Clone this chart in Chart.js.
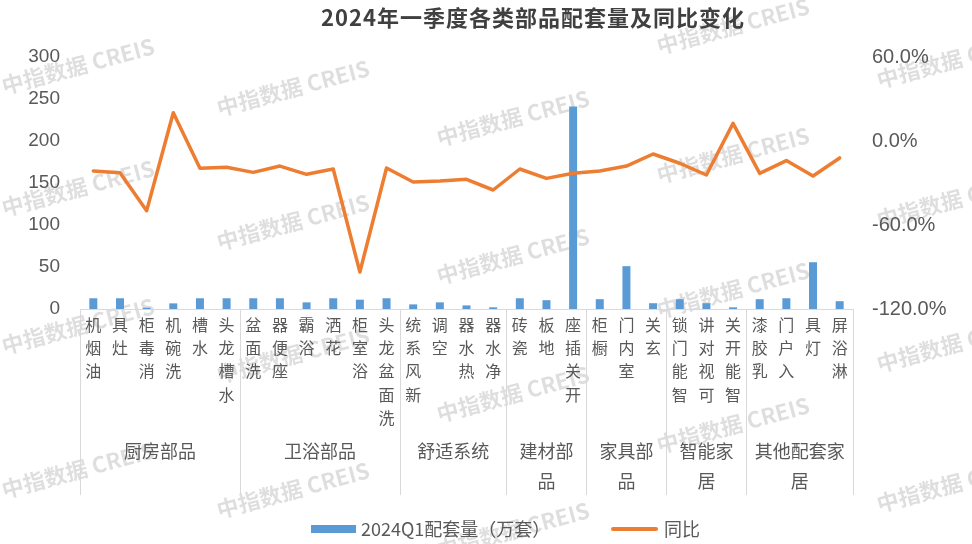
<!DOCTYPE html>
<html>
<head>
<meta charset="utf-8">
<script src="https://cdn.jsdelivr.net/npm/chart.js@4/dist/chart.umd.min.js"></script>
<style>
html,body{margin:0;padding:0;background:#fff;}
#wrap{width:972px;height:544px;position:relative;}
</style>
</head>
<body>
<div id="wrap"><canvas id="c" width="972" height="544"></canvas></div>
<script>
const chartTitle = '2024年一季度各类部品配套量及同比变化';
const categories = ['油烟机','灶具','消毒柜','洗碗机','水槽','水槽龙头','洗面盆','座便器','浴霸','花洒','浴室柜','洗面盆龙头','新风系统','空调','热水器','净水器','瓷砖','地板','开关插座','橱柜','室内门','玄关','智能门锁','可视对讲','智能开关','乳胶漆','入户门','灯具','淋浴屏'];
const groupNames = ['厨房部品','卫浴部品','舒适系统','建材部品','家具部品','智能家居','其他配套家居'];
const groupSizes = [6,6,4,3,3,3,4];
const volumeLabel = '2024Q1配套量（万套）';
const yoyLabel = '同比';
const volume = [12.8,12.8,1.5,6.7,12.8,12.8,12.8,12.8,7.9,12.8,11.1,12.8,5.5,7.9,4.3,2.0,12.8,10.5,241,11.7,51,6.9,11.7,6.9,2.0,11.7,12.8,55.7,9.3];
const yoy = [-21.4,-22.6,-49.8,20.2,-19.5,-18.8,-22.4,-17.9,-23.8,-20.0,-93.6,-19.3,-29.3,-28.6,-27.4,-35.0,-20.0,-26.7,-23.1,-21.4,-17.9,-9.3,-15.9,-24.3,12.6,-23.1,-14.0,-25.0,-12.1];
const leftAxis = {min:0, max:300, step:50};
const rightAxis = {min:-120, max:60, step:60};
const watermarkText = '中指数据 CREIS';
const watermarkSpots = [[78,66],[78,188],[78,326],[78,470],[293,88],[293,222],[293,355],[293,490],[513,118],[513,256],[513,394],[513,530],[733,26],[733,155],[733,290],[733,425],[953,60],[953,200],[953,344],[953,484]];

const CJK = '"Noto Sans CJK SC", "Noto Sans", sans-serif';
const LAT = '"Liberation Sans", Arial, sans-serif';
const BLUE = '#5B9BD5', ORANGE = '#ED7D31', TXT = '#595959', LINE = '#D9D9D9';

const decor = {
  id: 'decor',
  beforeDraw(chart) {
    const ctx = chart.ctx;
    ctx.save();
    ctx.fillStyle = '#ffffff';
    ctx.fillRect(0, 0, chart.width, chart.height);
    ctx.font = 'bold 22px ' + CJK;
    ctx.fillStyle = 'rgba(0,0,0,0.13)';
    ctx.textAlign = 'center';
    ctx.textBaseline = 'middle';
    watermarkSpots.forEach(([x, y]) => {
      ctx.save();
      ctx.translate(x, y);
      ctx.rotate(-15 * Math.PI / 180);
      ctx.fillText(watermarkText, 0, 0);
      ctx.restore();
    });
    ctx.restore();
  },
  afterDraw(chart) {
    const ctx = chart.ctx;
    const xs = chart.scales.x;
    const half = (xs.getPixelForValue(1) - xs.getPixelForValue(0)) / 2;
    const bounds = [xs.getPixelForValue(0) - half];
    let idx = 0;
    groupSizes.forEach(n => { idx += n; bounds.push(xs.getPixelForValue(idx - 1) + half); });
    ctx.save();
    // separators
    ctx.strokeStyle = LINE;
    ctx.lineWidth = 1;
    bounds.forEach(b => {
      const bx = Math.round(b) + 0.5;
      ctx.beginPath();
      ctx.moveTo(bx, xs.top);
      ctx.lineTo(bx, 495);
      ctx.stroke();
    });
    // group labels
    ctx.font = '18px ' + CJK;
    ctx.fillStyle = TXT;
    ctx.textAlign = 'center';
    ctx.textBaseline = 'middle';
    groupNames.forEach((name, g) => {
      const w = bounds[g + 1] - bounds[g];
      const cx = (bounds[g] + bounds[g + 1]) / 2;
      const lines = [];
      let cur = '';
      for (const ch of name) {
        if (ctx.measureText(cur + ch).width > w - 10 && cur) { lines.push(cur); cur = ch; }
        else cur += ch;
      }
      if (cur) lines.push(cur);
      lines.forEach((ln, k) => ctx.fillText(ln, cx, 451 + k * 30));
    });
    // title
    ctx.font = 'bold 22px ' + CJK;
    ctx.fillStyle = '#404040';
    ctx.textAlign = 'center';
    try { ctx.letterSpacing = '1px'; } catch (e) {}
    ctx.fillText(chartTitle, 533, 18);
    try { ctx.letterSpacing = '0px'; } catch (e) {}
    // legend
    ctx.fillStyle = BLUE;
    ctx.fillRect(311, 525, 45, 8);
    ctx.font = '18px ' + CJK;
    ctx.fillStyle = TXT;
    ctx.textAlign = 'left';
    ctx.fillText(volumeLabel, 361, 529);
    ctx.strokeStyle = ORANGE;
    ctx.lineWidth = 4;
    ctx.lineCap = 'round';
    ctx.beginPath();
    ctx.moveTo(613, 529);
    ctx.lineTo(656, 529);
    ctx.stroke();
    ctx.fillText(yoyLabel, 664, 529);
    ctx.restore();
  }
};

new Chart(document.getElementById('c'), {
  type: 'bar',
  data: {
    labels: categories,
    datasets: [
      {
        type: 'bar',
        label: volumeLabel,
        data: volume,
        backgroundColor: BLUE,
        barPercentage: 0.3,
        categoryPercentage: 1,
        yAxisID: 'y',
        order: 2
      },
      {
        type: 'line',
        label: yoyLabel,
        data: yoy,
        borderColor: ORANGE,
        backgroundColor: ORANGE,
        borderWidth: 3.5,
        pointRadius: 0,
        tension: 0,
        borderJoinStyle: 'round',
        borderCapStyle: 'round',
        yAxisID: 'y1',
        order: 1
      }
    ]
  },
  options: {
    responsive: false,
    animation: false,
    devicePixelRatio: 1,
    layout: { padding: { top: 57, left: 0, right: 0, bottom: 0 } },
    plugins: {
      legend: { display: false },
      title: { display: false },
      tooltip: { enabled: false }
    },
    scales: {
      x: {
        type: 'category',
        offset: true,
        grid: { display: false, drawTicks: false },
        border: { display: true, color: LINE, width: 1 },
        ticks: {
          autoSkip: false,
          maxRotation: 0,
          minRotation: 0,
          padding: 4,
          color: TXT,
          font: { family: CJK, size: 16, lineHeight: 1.456 },
          callback: function(v, i) { return categories[i].split('').reverse(); }
        },
        afterFit(scale) { scale.height = 235; }
      },
      y: {
        position: 'left',
        min: leftAxis.min,
        max: leftAxis.max,
        grid: { display: false, drawTicks: false },
        border: { display: false },
        ticks: {
          stepSize: leftAxis.step,
          padding: 20,
          color: TXT,
          font: { family: LAT, size: 19 }
        },
        afterFit(scale) { scale.width = 80; }
      },
      y1: {
        position: 'right',
        min: rightAxis.min,
        max: rightAxis.max,
        grid: { display: false, drawTicks: false },
        border: { display: false },
        ticks: {
          stepSize: rightAxis.step,
          padding: 19,
          color: TXT,
          font: { family: LAT, size: 20 },
          callback: v => Number(v).toFixed(1) + '%'
        },
        afterFit(scale) { scale.width = 119; }
      }
    }
  },
  plugins: [decor]
});
</script>
</body>
</html>
